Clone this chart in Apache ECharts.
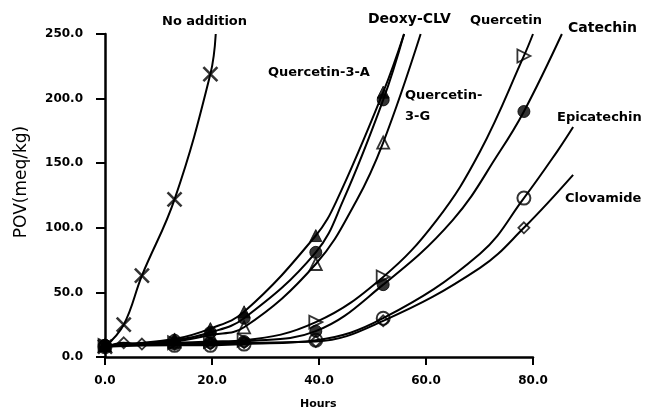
<!DOCTYPE html>
<html>
<head>
<meta charset="utf-8">
<script src="https://cdn.jsdelivr.net/npm/echarts@6/dist/echarts.min.js"></script>
<style>html,body{margin:0;padding:0;background:#fff;}#c{width:647px;height:412px;}</style>
</head>
<body>
<div id="c"></div>
<script>
// Sampling times as placed on the drawn hour axis
const hours = [0, 3.5, 6.9, 13, 19.7, 26, 39.4, 52, 78.3];
// POV (meq/kg) markers per series, aligned with hours (null = no marker)
const noAddition  = [8, 25, 63, 122, 219, null, null, null, null];
const deoxyCLV    = [9, null, null, 14, 22, 35, 94, 205, null];
const quercetin3A = [9, null, null, 13, 19, 30, 81, 199, null];
const quercetin3G = [9, null, null, 12, 17, 23, 72, 166, null];
const quercetin   = [9, null, null, 11, 12, 13, 27, 62, 233];
const catechin    = [9, null, null, 10, 11, 12, 20, 56, 190];
const epicatechin = [8, null, null, 9, 9, 10, 13, 30, 123];
const clovamide   = [7, 11, 10, 10, 10, 11, 12, 28, 100];

// Extra points (no marker drawn there)
const noAdditionTraceH  = [20.7];             const noAdditionTraceV  = [250];
const deoxyCLVTraceH    = [43.3, 55.9];       const deoxyCLVTraceV    = [121, 250];
const quercetin3ATraceH = [44.5, 55.9];       const quercetin3ATraceV = [121, 250];
const quercetin3GTraceH = [47, 59];           const quercetin3GTraceV = [121, 250];
const quercetinTraceH   = [62, 70.1, 80];     const quercetinTraceV   = [106, 159, 250];
const catechinTraceH    = [65, 73.8, 85.4];   const catechinTraceV    = [106, 159, 250];
const epicatechinTraceH = [70.1, 84.5, 87.5]; const epicatechinTraceV = [80, 159, 178];
const clovamideTraceH   = [70.1, 87.5];       const clovamideTraceV   = [69, 141];

const seriesNames = ['No addition', 'Deoxy-CLV', 'Quercetin-3-A', 'Quercetin-3-G', 'Quercetin', 'Catechin', 'Epicatechin', 'Clovamide'];
const seriesValues = [noAddition, deoxyCLV, quercetin3A, quercetin3G, quercetin, catechin, epicatechin, clovamide];
const traceHours = [noAdditionTraceH, deoxyCLVTraceH, quercetin3ATraceH, quercetin3GTraceH, quercetinTraceH, catechinTraceH, epicatechinTraceH, clovamideTraceH];
const traceValues = [noAdditionTraceV, deoxyCLVTraceV, quercetin3ATraceV, quercetin3GTraceV, quercetinTraceV, catechinTraceV, epicatechinTraceV, clovamideTraceV];
const xTicks = [0, 20, 40, 60, 80];
const yTicks = [0, 50, 100, 150, 200, 250];

const crossPath = 'path://M0,0L10,10M10,0L0,10';
const markerStyles = [
  {symbol: crossPath, size: 14, fill: 'none', bw: 2.6, rot: 0},
  {symbol: 'triangle', size: 12, fill: '#000', bw: 1, rot: 0},
  {symbol: 'circle', size: 12, fill: '#000', bw: 1, rot: 0},
  {symbol: 'triangle', size: 12, fill: 'rgba(0,0,0,0)', bw: 1.8, rot: 0},
  {symbol: 'triangle', size: 13, fill: 'rgba(0,0,0,0)', bw: 1.8, rot: -90},
  {symbol: 'circle', size: 12, fill: '#000', bw: 1, rot: 0},
  {symbol: 'circle', size: 13, fill: 'rgba(0,0,0,0)', bw: 2, rot: 0},
  {symbol: 'diamond', size: 11, fill: 'rgba(0,0,0,0)', bw: 1.8, rot: 0}
];

const series = [];
seriesValues.forEach((vals, i) => {
  const pts = [];
  hours.forEach((h, j) => { if (vals[j] !== null) pts.push([h, vals[j]]); });
  const extra = traceHours[i].map((h, k) => [h, traceValues[i][k]]);
  const curve = pts.concat(extra).sort((a, b) => a[0] - b[0]);
  series.push({
    name: seriesNames[i], type: 'line', data: curve, showSymbol: false,
    xAxisIndex: 1, yAxisIndex: 1,
    smooth: 0.4, silent: true,
    lineStyle: {color: '#000', width: 2}, z: 2
  });
  const m = markerStyles[i];
  series.push({
    name: seriesNames[i] + ' pts', type: 'scatter', data: pts, silent: true,
    xAxisIndex: 1, yAxisIndex: 1,
    symbol: m.symbol, symbolSize: m.size, symbolRotate: m.rot,
    itemStyle: {color: m.fill, borderColor: '#000', borderWidth: m.bw}, z: 3
  });
});
// Short stub of the hour axis reaching left of the value axis, as in the original
series.push({
  type: 'line', data: [], xAxisIndex: 1, yAxisIndex: 1, silent: true,
  markLine: {silent: true, symbol: 'none', label: {show: false},
    lineStyle: {color: '#000', width: 2.5, type: 'solid'},
    data: [[{coord: [-1.6, 0]}, {coord: [0, 0]}]]}
});

const lbl = (text, x, y, size) => ({
  type: 'text', left: x, top: y - size * 0.6,
  style: {text: text, font: 'bold ' + size + 'px "DejaVu Sans"', fill: '#000'}
});

const tickFont = {color: '#000', fontFamily: 'DejaVu Sans', fontWeight: 'bold', fontSize: 12};

const chart = echarts.init(document.getElementById('c'), null, {renderer: 'canvas'});
chart.setOption({
  animation: false,
  backgroundColor: '#fff',
  grid: [
    {left: 105, right: 114, top: 34, bottom: 55},
    {left: 105, right: 60.5, top: 34, bottom: 55}
  ],
  xAxis: [{
    gridIndex: 0, type: 'value', min: xTicks[0], max: xTicks[xTicks.length - 1], interval: 20,
    axisLine: {lineStyle: {color: '#000', width: 2.5}},
    axisTick: {show: true, length: 8, lineStyle: {color: '#000', width: 2}},
    axisLabel: Object.assign({margin: 18, formatter: v => v.toFixed(1)}, tickFont),
    splitLine: {show: false}
  }, {
    gridIndex: 1, type: 'value', min: 0, max: 90, show: false
  }],
  yAxis: [{
    gridIndex: 0, type: 'value', min: yTicks[0], max: yTicks[yTicks.length - 1], interval: 50,
    axisLine: {show: true, lineStyle: {color: '#000', width: 2.5}},
    axisTick: {show: true, length: 9, lineStyle: {color: '#000', width: 2}},
    axisLabel: Object.assign({margin: 22, formatter: v => v.toFixed(1)}, tickFont),
    splitLine: {show: false}
  }, {
    gridIndex: 1, type: 'value', min: yTicks[0], max: yTicks[yTicks.length - 1], show: false
  }],
  graphic: [
    lbl('No addition', 162, 23, 13),
    lbl('Deoxy-CLV', 368, 21, 14),
    lbl('Quercetin', 470, 22, 13),
    lbl('Catechin', 568, 30, 14),
    lbl('Quercetin-3-A', 268, 74, 13),
    lbl('Quercetin-', 405, 97, 13),
    lbl('3-G', 405, 118, 13),
    lbl('Epicatechin', 557, 119, 13),
    lbl('Clovamide', 565, 200, 13),
    {type: 'text', left: 300, top: 399, style: {text: 'Hours', font: 'bold 11px "DejaVu Sans"', fill: '#000'}},
    {type: 'text', x: 22, y: 182, rotation: Math.PI / 2,
      style: {text: 'POV(meq/kg)', font: '17px "DejaVu Sans"', fill: '#000', align: 'center', verticalAlign: 'middle'}}
  ],
  series: series
});
</script>
</body>
</html>
